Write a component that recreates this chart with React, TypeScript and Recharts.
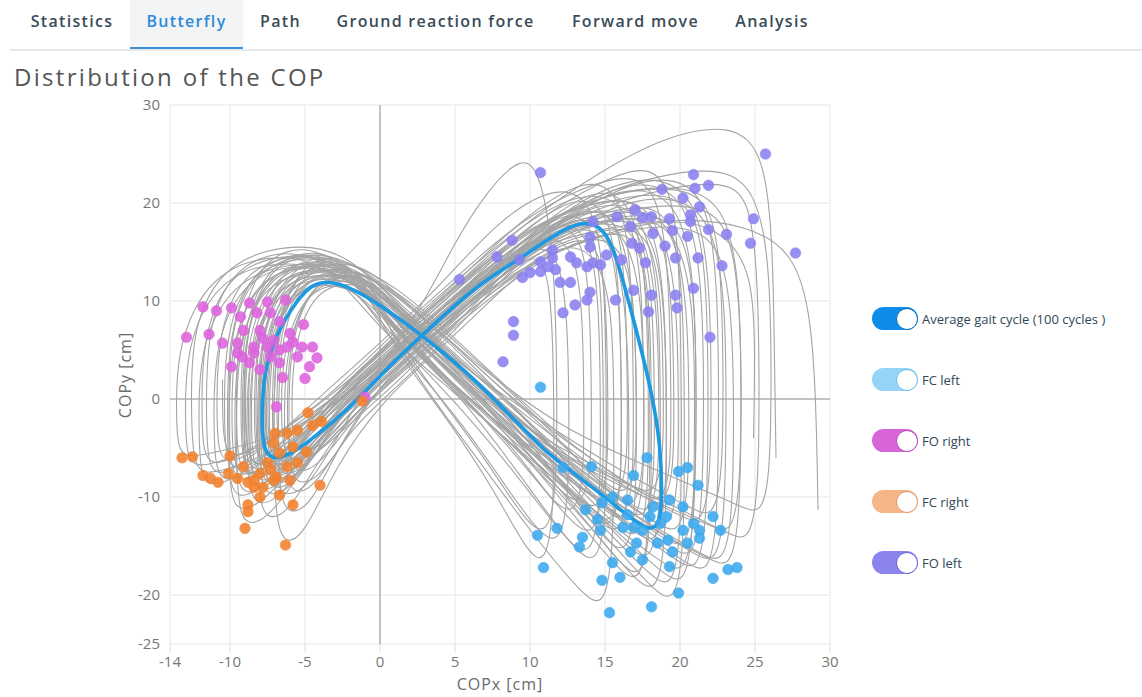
import React from "react";
import { CartesianGrid, ComposedChart, Line, ReferenceLine, Scatter, XAxis, YAxis } from "recharts";

type P = [number, number];

const xTicks = [-14, -10, -5, 0, 5, 10, 15, 20, 25, 30];
const yTicks = [-25, -20, -10, 0, 10, 20, 30];

const tabs = ["Statistics", "Butterfly", "Path", "Ground reaction force", "Forward move", "Analysis"];
const activeTab = "Butterfly";

// average gait cycle (closed loop, starts at the lower-left corner)
const avgCycle: P[] = [
  [-7.1, -6.2], [-5.9, -5.6], [-4.9, -4.5], [-3, -2.2], [-1.3, 0.2], [0.5, 3.2], [2.8, 6.5], [4.8, 9.3],
  [6.7, 11.8], [8.9, 13.9], [11.1, 16.2], [12.5, 17.5], [13.5, 18], [14.6, 17.8], [15.5, 15.8], [16.2, 12.1],
  [17.1, 7], [18.2, 0.2], [18.7, -4.9], [18.8, -9.3], [18.7, -12.4], [18.2, -13.4], [17.3, -12.9], [15.5, -10.6],
  [13.3, -8], [11.1, -5.5], [8.9, -2], [6.7, 1.4], [4.8, 4], [2.8, 6.5], [0.2, 9.4], [-1.8, 11.3],
  [-3.5, 12.1], [-4.6, 11.6], [-5.4, 10.3], [-6.5, 7.8], [-7.3, 5], [-7.8, 1.9], [-7.9, -2.9], [-7.7, -5.4],
];

// individual cycles (closed loops)
const cycles: P[][] = [
  [[-7.9, -8], [-6.3, -7.3], [-3, -1.4], [0, 2.7], [5, 9.5], [10, 15.8], [14, 19], [16.5, 17], [17.5, 10], [17.6, 0], [17.6, -9], [17, -13], [15.5, -11.6], [11, -5], [6, 2], [1, 9], [-1.5, 12], [-4, 13], [-7, 11.5], [-8.5, 6], [-8.6, -2], [-8.5, -6.5]],
  [[-8.4, -7.5], [-6.8, -6.8], [-3, -0.4], [0, 3.7], [5, 10.5], [10, 17], [15, 20], [17.5, 18], [18.5, 10], [18.6, 0], [18.6, -8], [18, -12], [16.5, -10.6], [11, -4], [6, 3], [1, 10], [-2, 13], [-4.5, 14], [-7.5, 12.5], [-9, 7], [-9.1, -1], [-9, -6]],
  [[-6.9, -7], [-5.3, -6.3], [-3, -2.4], [0, 1.7], [5, 8.5], [9.5, 14.5], [13, 18], [15.5, 16.5], [16.4, 10], [16.6, 0], [16.6, -10], [16, -14], [14.5, -12.6], [11, -6.5], [6, 1], [1, 8], [-1, 11.5], [-3, 12.5], [-6, 11], [-7.5, 5], [-7.6, -2], [-7.5, -5.5]],
  [[-9.4, -8.5], [-7.8, -7.8], [-3, 0.6], [0, 4.7], [5, 11.5], [10, 18], [16, 21], [18.5, 19], [19.5, 11], [19.6, 0], [19.6, -7], [19, -11], [17.5, -9.6], [11, -3], [6, 4], [1, 11], [-2.5, 14.5], [-5, 15], [-8.5, 13], [-10, 7], [-10.1, -1], [-10, -7]],
  [[-10.9, -7.8], [-9.3, -7.1], [-3, 1.6], [0, 5.7], [4, 11.5], [8, 18.5], [12, 22], [14.3, 20], [15, 12], [15.1, 0], [15.1, -12], [14.5, -17], [13, -15.6], [9, -7], [5, 1], [1, 7], [-2, 12.5], [-5.5, 15.5], [-9.5, 14], [-11.5, 8], [-11.6, -1], [-11.5, -6.5]],
  [[-12.9, -6], [-11, -5.5], [-6, -3.5], [-2, 0.5], [3, 6.5], [8, 13.5], [13, 19.5], [17, 22], [20, 20], [21, 12], [21.1, 0], [21, -13], [20.3, -18], [18.8, -16.8], [14, -11], [9, -5], [4, 2], [0, 7], [-3, 13], [-6, 15], [-11, 13.5], [-13.5, 6], [-13.6, -1], [-13.5, -5]],
  [[-11.9, -7.8], [-10, -7.2], [-5, -4], [0, 2.7], [5, 9.5], [10, 16.5], [14, 21], [18, 23], [21, 21], [22, 13], [22.1, 0], [22, -9], [21.4, -13], [19.9, -11.8], [15, -8], [10, -2], [5, 4], [1, 10], [-2, 14.5], [-5, 16], [-10, 14.5], [-12.5, 8], [-12.6, 0], [-12.5, -6]],
  [[-7.4, -9], [-5.8, -8.3], [-3, -3.4], [0, 0.7], [5, 7.5], [10, 13.5], [14, 17], [16.3, 15.5], [17, 9], [17.1, 0], [17.1, -6], [16.6, -10], [15, -8.8], [11, -3], [6, 4], [1, 11], [-1.5, 13], [-3.5, 13.5], [-6.5, 12], [-8, 6], [-8.1, -2], [-8, -7.5]],
  [[-8.9, -13], [-7.3, -12.2], [-4, -4.5], [0, 1.7], [5, 8.5], [10, 15], [15, 19.5], [19, 21], [22, 19], [23, 11], [23.1, 0], [23, -12], [22.4, -17], [20.9, -15.8], [16, -11], [11, -5], [6, 2], [1, 9], [-1.5, 13], [-4, 14.5], [-7.5, 13], [-9.5, 6], [-9.6, -3], [-9.5, -11]],
  [[-6.4, -15], [-5, -13.8], [-3, -7], [0, -0.3], [5, 6.5], [9, 12.5], [12, 16], [14.5, 15], [15.5, 9], [15.6, 0], [15.6, -15], [15, -21.5], [13.5, -20], [10, -13.5], [6, -5], [2, 3], [-0.5, 11], [-3, 15], [-5.5, 13.5], [-7, 7], [-7.1, -3], [-7, -12]],
  [[-5.9, -6.5], [-4.3, -5.8], [-2, -2.5], [1, 1.5], [5, 7.5], [8, 12.5], [10.5, 16], [12, 14.5], [12.5, 8], [12.6, 0], [12.6, -10], [12, -15], [10.5, -13.6], [8, -8], [5, -1.5], [1, 5.5], [-1, 10], [-2.5, 12], [-5, 11], [-6.5, 5], [-6.6, -1], [-6.5, -5]],
  [[-6.4, -10], [-4.8, -9.2], [-2.5, -3], [0, 3.7], [5, 10.5], [10, 17], [15, 21.5], [22, 24], [25, 22], [26, 14], [26.1, 2], [26, -8], [25.4, -12], [23.9, -10.8], [18, -7], [12, -3], [6, 4], [1, 11], [-1, 13.5], [-3, 14], [-5.5, 12.5], [-7, 6], [-7.1, -3], [-7, -8.5]],
  [[-8.2, -11], [-6.6, -10.2], [-3.5, -3], [0, 2.7], [5, 9.5], [10, 15.5], [16, 19], [18.3, 17], [19, 9], [19.1, 0], [19.1, -10], [18.5, -15], [17, -13.8], [12, -7], [6, 1], [1, 8], [-1.5, 12], [-4, 13], [-7, 11.5], [-8.8, 5], [-8.9, -3], [-8.8, -9]],
  [[-5.4, -8.8], [-4, -8], [-2, -3.5], [0, 1.7], [5, 8.5], [9.5, 15], [13.5, 20], [16, 18.5], [17, 10], [17.1, 0], [17.1, -11], [16.5, -16], [15, -14.6], [11, -6], [6, 2], [1, 9], [0, 11.5], [-2, 13], [-4.5, 12], [-6, 6], [-6.1, -2], [-6, -7.5]],
  [[-8.4, -9], [-6.8, -8.3], [-3, 0.6], [0, 4.7], [5, 11.5], [10, 17.5], [15, 21], [20, 22], [23, 20], [24, 12], [24.1, 0], [24, -12], [23.4, -17.5], [21.9, -16.3], [16, -11.5], [11, -7], [6, 0], [1, 7], [-2, 13], [-4.5, 15], [-7.5, 13.5], [-9, 7], [-9.1, -2], [-9, -7.5]],
  [[-10.4, -8.5], [-8.8, -7.8], [-3, -0.4], [0, 3.7], [5, 10.5], [10, 16], [15, 18.5], [17.3, 17], [18, 10], [18.1, 0], [18.1, -13], [17.5, -18.5], [16, -17], [12, -9], [6, 1], [1, 8], [-2, 12.5], [-5, 14], [-9, 12.5], [-11, 6], [-11.1, -2], [-11, -7]],
  [[-7.2, -7.5], [-5.6, -6.8], [-3, -2.4], [0, 1.7], [5, 8.5], [8.5, 13.5], [11, 17], [13, 15.5], [13.5, 9], [13.6, 0], [13.6, -8], [13, -12], [11.5, -10.6], [9, -5], [5, 1], [1, 7], [-1.5, 11], [-3.5, 12], [-6.5, 10.5], [-7.8, 5], [-7.9, -2], [-7.8, -6]],
  [[-7.7, -6.8], [-6.1, -6.1], [-3, -0.9], [0, 3.2], [5, 10], [10, 16], [17, 20], [19.5, 18], [20.5, 10], [20.6, 0], [20.6, -9], [20, -14], [18.5, -12.8], [13, -7], [7, 1], [1, 9.5], [-1.5, 12.5], [-4, 13.5], [-7, 12], [-8.3, 6], [-8.4, -2], [-8.3, -5.5]],
  [[-8.9, -7.8], [-7.3, -7.1], [-3, 0.1], [0, 4.2], [5, 11], [10, 17.5], [15.5, 21], [18, 19.5], [19, 11], [19.1, 0], [19.1, -14], [18.5, -20], [17, -18.6], [13, -11], [7, -2], [2, 5], [-1, 12], [-4.5, 16], [-8, 14.5], [-9.5, 7], [-9.6, -1], [-9.5, -6.5]],
  [[-6.7, -8.5], [-5.1, -7.8], [-3, -2], [0, 2.2], [5, 9], [9.5, 15], [13, 19], [15.3, 17.5], [16, 10], [16.1, 0], [16.1, -9], [15.5, -13], [14, -11.6], [10, -5], [6, 1.5], [1, 8.5], [-1, 11.5], [-3, 12.8], [-6, 11.5], [-7.3, 5], [-7.4, -2], [-7.3, -7]],
  [[-9.4, -11.5], [-7.8, -10.7], [-4, -4], [0, 2.7], [5, 9.5], [10, 16], [14, 20.5], [17.5, 22.5], [20.5, 20.5], [21.5, 12], [21.6, 0], [21.5, -11], [20.9, -16.5], [19.4, -15.3], [14, -9], [8, -1], [3, 6.5], [0, 11], [-2, 13.5], [-4.5, 14], [-8, 12.5], [-10, 6], [-10.1, -3], [-10, -10]],
  [[-6.2, -7], [-4.6, -6.3], [-2, -2], [1, 2.5], [5, 8], [9, 14], [12, 18], [13.5, 16.5], [14, 10], [14.1, 0], [14.1, -7], [13.5, -11], [12, -9.6], [9, -4], [5, 3], [1, 10], [-0.5, 12.5], [-2.5, 13.5], [-5.5, 12], [-6.8, 6], [-6.9, -1], [-6.8, -5.5]],
  [[-7.4, -10], [-5.8, -9.2], [-3, -2.5], [0, 2.7], [5, 9.5], [10, 16], [15, 21], [19, 23], [21.8, 21], [22.5, 12], [22.6, 0], [22.5, -13], [21.9, -18], [20.4, -16.8], [15, -11], [9, -4], [4, 2.5], [0, 9], [-1.5, 13], [-3.5, 14.5], [-6.5, 13], [-8, 6], [-8.1, -3], [-8, -8.5]],
  [[-11.4, -9], [-9.5, -8.2], [-4, -1.5], [0, 5.2], [5, 12], [10, 18.5], [14, 21.5], [16.8, 19.5], [17.5, 11], [17.6, 0], [17.6, -7], [17, -11.5], [15.5, -10], [11, -2.5], [6, 4.5], [1, 11.5], [-2.5, 13.5], [-5.5, 14], [-9.5, 12.5], [-12, 6], [-12.1, -2], [-12, -7.5]],
  [[-7, -6], [-5.4, -5.3], [-3, -2], [0, 2.2], [5, 9], [10, 15], [16, 18], [18.2, 16.5], [18.8, 9], [18.9, 0], [18.9, -6], [18.3, -10], [16.8, -8.8], [12, -6], [6, 2], [1, 9], [-1, 12], [-3, 13], [-6, 11.5], [-7.6, 5], [-7.7, -1], [-7.6, -4.5]],
  [[-8.6, -8], [-7, -7.3], [-3, -0.4], [0, 3.7], [5, 10.5], [10, 16], [16, 19.5], [21, 20], [23.3, 18], [24, 10], [24.1, 0], [24, -9.5], [23.4, -14], [21.9, -12.8], [16, -9], [10, -4], [5, 2.5], [1, 8], [-1.5, 13], [-4, 15.5], [-7.5, 14], [-9.2, 7], [-9.3, -1], [-9.2, -6.5]],
  [[-8, -9.5], [-6.4, -8.8], [-3, -2], [0, 2.7], [5, 9.5], [10, 17], [14.5, 22], [17, 20], [17.8, 11], [17.9, 0], [17.9, -10], [17.3, -14.5], [15.8, -13.2], [11, -5.5], [6, 2.5], [1, 9.5], [-1.5, 12], [-4, 12.5], [-7, 11], [-8.6, 5], [-8.7, -3], [-8.6, -8]],
  [[-5.7, -9.8], [-4.3, -9], [-2, -3], [1, 1], [5, 7], [8, 12], [10, 15], [11.2, 13.5], [11.5, 7], [11.6, 0], [11.6, -12], [11, -17], [9.8, -15.6], [7.5, -9], [4.5, -2], [1, 5], [-0.5, 10], [-2, 12.5], [-4.8, 11.5], [-6.3, 5], [-6.4, -2], [-6.3, -8]],
  [[-10.2, -6.5], [-8.6, -5.8], [-3, 0.1], [0, 4.2], [5, 11], [10, 18], [15, 22.5], [18, 24], [19.6, 21], [20, 12], [20.1, 0], [20.1, -14], [19.5, -19.5], [18, -18.1], [14, -11.5], [8, -3], [3, 4], [0, 9], [-2.5, 13.5], [-5, 15], [-9, 13.5], [-10.8, 7], [-10.9, -1], [-10.8, -5.5]],
  [[-7.3, -8.2], [-5.7, -7.5], [-3, -1], [0, 3.2], [5, 10], [10, 16.5], [15, 19.5], [17.5, 17.5], [18.2, 10], [18.3, 0], [18.3, -8.5], [17.7, -12.5], [16.2, -11.2], [11, -4.5], [6, 2.5], [1, 9.5], [-1, 12], [-3.2, 13], [-6.3, 11.8], [-7.9, 5.5], [-8, -2], [-7.9, -7]],
  [[-8.3, -7], [-6.7, -6.3], [-3, -0.4], [0, 3.7], [5, 10.5], [10, 16.5], [16.5, 19], [19, 17.5], [19.8, 10], [19.9, 0], [19.9, -9], [19.3, -13.5], [17.8, -12.2], [12, -6], [6, 2.3], [1, 9.3], [-1.5, 12.8], [-4.2, 14], [-7.3, 12.5], [-8.9, 6], [-9, -1], [-8.9, -5.5]],
  [[-5.2, -5.5], [-3.8, -4.8], [-2, -1.5], [1, 3], [5, 8.5], [10, 14], [15, 17], [20, 18], [22.8, 16], [23.5, 8], [23.6, -2], [23.5, -12], [22.9, -17], [21.4, -15.8], [16, -11], [10, -5], [5, 1], [1, 8], [-0.5, 11], [-2, 12], [-4.5, 11], [-5.8, 5], [-5.9, -1], [-5.8, -4.5]],
  [[-9.2, -8], [-7.6, -7.3], [-3, -0.6], [0, 3.5], [5, 10.3], [9, 16.5], [13, 21], [15.3, 19.5], [16, 11], [16.1, 0], [16.1, -9], [15.5, -13.5], [14, -12.1], [10, -5], [5, 2], [1, 8.5], [-2, 12.5], [-4.8, 13.8], [-8.3, 12.3], [-9.8, 6], [-9.9, -2], [-9.8, -6.5]],
  [[-7.6, -8.8], [-6, -8], [-3, -2.5], [0, 3], [3, 10], [5, 16], [7, 21], [9.5, 25], [10.7, 23.1], [11.6, 15], [11.8, 3], [11.8, -9], [11.2, -14], [9.8, -12.8], [7, -6], [4, 0], [1, 6.5], [-1, 11], [-3, 13.2], [-6, 12], [-7.6, 6], [-7.7, -2], [-7.6, -7]],
  [[-7.6, -7.2], [-6, -6.5], [-3, 0.8], [0, 4.9], [5, 11.7], [9.5, 18.5], [13.8, 22.8], [16.2, 21], [16.8, 12], [16.9, 0], [16.9, -8.5], [16.3, -12.8], [14.8, -11.4], [11, -3.5], [6, 3.2], [1, 10.2], [-1.5, 13.8], [-3.8, 14.8], [-6.8, 13.2], [-8.2, 6.5], [-8.3, -1.5], [-8.2, -6]],
  [[-9, -9.8], [-7.4, -9.1], [-3.5, -2.8], [0, 1.9], [5, 8.7], [10, 15], [14, 18], [17.8, 19.2], [20.3, 17.5], [21, 10], [21.1, 0], [21, -10.5], [20.4, -15.5], [18.9, -14.3], [13.5, -8.5], [8, -1], [3, 5.8], [0, 9.8], [-2, 12.6], [-4.4, 13.2], [-7.8, 11.8], [-9.6, 5.5], [-9.7, -2.5], [-9.6, -8.3]],
  [[-6.5, -7.9], [-4.9, -7.2], [-2.5, -1.2], [0, 2.4], [5, 9.2], [10, 16], [14.8, 20.6], [17.6, 19], [18.6, 11], [18.7, 0], [18.7, -11.5], [18.1, -16.8], [16.6, -15.4], [12, -7.5], [6, 2.7], [1, 9.7], [-1.2, 13], [-3.3, 14.2], [-5.8, 12.8], [-7.1, 6], [-7.2, -1.5], [-7.1, -6.5]],
  [[-9.7, -7.3], [-8.1, -6.6], [-3, 0.4], [0, 4.5], [5, 11.3], [10, 17.6], [15, 21], [19.8, 21.8], [22.2, 20], [22.8, 12], [22.9, 0], [22.8, -8], [22.2, -12.3], [20.7, -11.1], [15, -6.5], [9, -0.5], [4, 5], [0.5, 10.5], [-2.5, 14], [-5.2, 14.6], [-8.8, 13], [-10.3, 6.5], [-10.4, -1], [-10.3, -6]],
  [[-8.1, -8.6], [-6.5, -7.9], [-3, -1.2], [0, 2.9], [5, 9.7], [9, 15.5], [12.4, 19.4], [14.3, 18], [14.8, 10], [14.9, 0], [14.9, -9.5], [14.3, -14.2], [12.8, -12.8], [9.5, -6.5], [5.5, 0.5], [1, 7.5], [-1.5, 12], [-4.1, 13.6], [-7.2, 12.2], [-8.7, 6], [-8.8, -2], [-8.7, -7]],
  [[-6.1, -11.8], [-4.6, -11], [-2.5, -4], [0, 1.5], [5, 8.3], [10, 14.5], [14, 17.8], [16.8, 18.8], [19.8, 17.5], [20.9, 10], [21, 0], [20.9, -14], [20.3, -19.2], [18.8, -17.8], [14, -11], [8, -2.5], [3, 4], [0, 8.5], [-1, 11.8], [-2.8, 13.1], [-5.4, 12], [-6.7, 5.5], [-6.8, -3], [-6.7, -10]],
  [[-11.2, -6.8], [-9.6, -6.1], [-4, -0.8], [0, 5.5], [5, 12.3], [10, 19.2], [16.2, 23.4], [18.6, 21.5], [19.3, 12], [19.4, 0], [19.4, -7], [18.8, -10.8], [17.3, -9.5], [12, -4], [6, 4.8], [1, 11.8], [-2.5, 14.2], [-5.8, 14.9], [-9.8, 13.5], [-11.8, 7], [-11.9, -1], [-11.8, -5.5]],
  [[-7.5, -12.4], [-6, -11.6], [-3.5, -4.5], [0, 1.1], [5, 7.9], [10, 14], [15.6, 17.6], [17.4, 16], [17.9, 9], [18, 0], [18, -13], [17.4, -19], [15.9, -17.6], [12, -10], [6, 0.8], [1, 7.8], [-1.3, 12.2], [-3.6, 13.8], [-6.6, 12.4], [-8.1, 5.8], [-8.2, -3], [-8.1, -10.5]],
  [[-8.5, -8.3], [-6.9, -7.6], [-3, -0.2], [0, 3.9], [5, 10.7], [10, 17], [15, 20.3], [18.6, 21.2], [21.2, 19.5], [21.8, 11], [21.9, 0], [21.8, -12.5], [21.2, -17.8], [19.7, -16.5], [14.5, -10.5], [8.5, -2.5], [3.5, 4.5], [0, 9.5], [-2, 13.2], [-4.3, 14.3], [-7.6, 12.9], [-9.1, 6.3], [-9.2, -1.5], [-9.1, -7]],
  [[-6.8, -6.6], [-5.2, -5.9], [-2.5, -1.1], [0, 2.5], [5, 9.3], [9, 15], [11.8, 18.4], [14, 17], [14.6, 10], [14.7, 0], [14.7, -11], [14.1, -16.2], [12.6, -14.8], [9.5, -8.5], [5.5, -1], [1, 6], [-1.2, 10.5], [-3.1, 12.3], [-6, 11], [-7.4, 5], [-7.5, -1.5], [-7.4, -5.3]],
  [[-12.3, -7], [-10.5, -6.4], [-5, -3], [0, 3.3], [5, 10.1], [10, 16.5], [16, 20.5], [22.8, 22.6], [24.7, 20.5], [25.2, 12], [25.3, 0], [25.2, -10], [24.6, -14.8], [23.1, -13.6], [17, -9], [10, -3.5], [5, 2.5], [1, 8.8], [-2.5, 13], [-6.2, 14.2], [-10.5, 12.8], [-12.9, 6], [-13, -1.5], [-12.9, -5.8]],
  [[-7.1, -9.3], [-5.5, -8.6], [-3, -1.2], [0, 3], [5, 9.8], [10, 16.3], [14.2, 19.8], [16, 18.3], [16.4, 10], [16.5, 0], [16.5, -6.5], [15.9, -10.6], [14.4, -9.3], [10.5, -3.5], [6, 3.8], [1, 10.8], [-1.2, 12.8], [-3.4, 13.4], [-6.4, 12], [-7.7, 5.5], [-7.8, -2], [-7.7, -8]],
  [[-9.5, -10.2], [-7.9, -9.4], [-3.5, -1.5], [0, 3.6], [5, 10.4], [10, 16.8], [17.2, 20.2], [19.5, 18.8], [20.2, 11], [20.3, 0], [20.3, -15], [19.7, -21], [18.2, -19.6], [14, -12], [8, -3.5], [3, 3.5], [0, 9], [-2.3, 13.6], [-4.7, 15.2], [-8.4, 13.8], [-10.1, 7], [-10.2, -2], [-10.1, -8.5]],
  [[-5.5, -7.6], [-4.1, -6.9], [-2, -2.5], [0, 0.9], [5, 7.7], [9.5, 13.5], [13.2, 16.8], [14.7, 15.5], [15.1, 9], [15.2, 0], [15.2, -7.5], [14.6, -11.6], [13.1, -10.3], [10, -4.5], [6, 2.5], [1, 9.3], [-0.4, 11.8], [-2.2, 12.8], [-4.8, 11.6], [-6.1, 5.5], [-6.2, -1.5], [-6.1, -6.3]],
];

// cycles that end inside the plot (not closed)
const openCycles: P[][] = [
  [[-10.5, 2], [-10.5, -4.5], [-9.9, -6], [-8.3, -5.3], [-3, 0.6], [0, 4.7], [5, 11.5], [10, 18.5], [15, 23.5], [19, 26.8], [23.5, 28.2], [25.7, 25], [26.2, 15], [26.3, 4], [26.4, -6]],
  [[-9, 3], [-9, -5], [-8.4, -7], [-6.8, -6.3], [-3, 0], [0, 4], [5, 10.5], [10, 15.5], [15, 17.5], [20, 18.5], [24.5, 17.8], [27.7, 14.9], [28.8, 8], [29.1, -2], [29.2, -11.3]],
  [[-8, 4], [-8, -5], [-7.4, -7.2], [-5.8, -6.5], [-3, -1.5], [0, 2.5], [5, 9], [10, 14], [15, 17], [19.5, 18.5], [22.8, 17.3], [24.9, 13], [25, 4], [24.9, -4]],
];

// events
const foRight: P[] = [
  [-11.8, 9.4], [-10.9, 9], [-9.9, 9.3], [-12.9, 6.3], [-11.4, 6.6], [-8.7, 9.8], [-7.5, 9.9], [-6.3, 10.1],
  [-9.3, 8.4], [-8.2, 8.8], [-7.3, 8.8], [-10.5, 5.7], [-9.5, 5.7], [-9.9, 3.3], [-9.2, 4.3], [-8.4, 5.3],
  [-7.8, 6.2], [-5.1, 7.6], [-6.7, 7.9], [-8, 7], [-6.2, 5.3], [-5.5, 4.3], [-4.2, 4.2], [-4.7, 3.3],
  [-6.7, 3.7], [-7.3, 4.3], [-8, 3], [-5, 2.1], [-6.5, 2.2], [-8.4, 4.7], [-6, 6.7], [-7.1, 6],
  [-7.5, 5.3], [-8.7, 3.7], [-9.5, 4.7], [-9.1, 7], [-5.8, 5.8], [-6.7, 5], [-5.2, 5.3], [-4.5, 5.3],
  [-6.9, -0.8], [-1, 0.2],
];
const fcRight: P[] = [
  [-12.5, -5.9], [-11.8, -7.8], [-10.8, -8.5], [-10, -5.8], [-10.1, -7.6], [-9.1, -6.9], [-8.8, -8.5], [-8, -7.6],
  [-7.3, -7.2], [-6.9, -8], [-6.2, -6.9], [-5.5, -6.5], [-4.9, -5.4], [-6.7, -5.5], [-7, -3.5], [-6.2, -3.5],
  [-5.5, -3.2], [-4.5, -2.7], [-4, -8.8], [-7.8, -9], [-6.7, -9.8], [-5.8, -10.8], [-8.8, -10.8], [-8.8, -11.5],
  [-9, -13.2], [-6.3, -14.9], [-9.5, -8.1], [-8.4, -9], [-7.1, -8.3], [-6, -8.3], [-7.5, -6.5], [-7.1, -4.5],
  [-5.8, -4.9], [-11.3, -8.1], [-8, -10], [-8.4, -8.3], [-1.2, -0.2], [-4.8, -1.4], [-3.9, -2.3], [-13.2, -6],
];
const fcLeft: P[] = [
  [10.7, 1.2], [17.8, -6], [16.9, -7.8], [14.1, -6.9], [12.2, -7], [20.5, -7], [19.9, -7.4], [21.2, -8.8],
  [13.7, -11.3], [14.8, -10.6], [15.5, -10], [16.5, -10.3], [18.2, -11], [19.3, -10.3], [20.2, -11], [22.2, -12],
  [22.7, -13.4], [20.9, -12.7], [20.2, -13.4], [19.2, -14.4], [18.5, -14.7], [17.5, -13.4], [16.9, -13.1], [16.2, -13.1],
  [14.5, -12.3], [14.7, -13.4], [11.8, -13.2], [10.5, -13.9], [13.3, -15.1], [16.7, -15.6], [19.5, -15.6], [20.5, -14.7],
  [10.9, -17.2], [14.8, -18.5], [16, -18.2], [15.5, -16.7], [17.5, -16.4], [19.3, -17.1], [22.2, -18.3], [23.2, -17.4],
  [23.8, -17.2], [19.9, -19.8], [18.1, -21.2], [15.3, -21.8], [13.5, -14.1], [21.3, -13.4], [18.7, -12.7], [18, -12],
  [19.1, -12], [16.5, -11.8], [17.1, -14.7], [21.3, -14.2],
];
const foLeft: P[] = [
  [10.7, 23.1], [25.7, 25], [20.9, 22.9], [21.9, 21.8], [21, 21.5], [18.8, 21.4], [20.2, 20.5], [21.3, 19.6],
  [17, 19.3], [20.7, 18.8], [24.9, 18.4], [19.3, 18.4], [15.8, 18.6], [17.5, 18.5], [18.1, 18.6], [20.7, 18.1],
  [16.7, 17.6], [19.5, 17.2], [21.9, 17.3], [18.2, 16.9], [20.5, 16.6], [23.1, 16.8], [24.7, 15.9], [27.7, 14.9],
  [14.2, 18.1], [14, 16.5], [16.8, 15.9], [17.3, 15.4], [19, 15.6], [19.7, 14.4], [21.2, 14.4], [22.8, 13.6],
  [17.7, 13.9], [16.1, 14.2], [16.9, 11.1], [18.1, 10.6], [19.7, 10.6], [20.9, 11.3], [19.8, 9.3], [17.9, 8.9],
  [15.7, 10.1], [14, 10.9], [13.8, 10.1], [13, 9.6], [12.2, 8.8], [8.9, 7.9], [8.8, 16.2], [7.8, 14.5],
  [9.3, 14.2], [10, 12.9], [10.7, 13], [11.5, 15.2], [11.5, 14.4], [11.7, 13.2], [12, 11.9], [12.7, 11.9],
  [12.7, 14.5], [13.1, 13.9], [13.8, 13.5], [14.2, 13.9], [14.7, 13.7], [15.1, 14.7], [14, 15.5], [9.5, 12.4],
  [10.7, 14], [11.2, 13.5], [22, 6.3], [8.9, 6.5], [8.2, 3.8], [5.3, 12.2],
];

const legendItems = [
  { label: "Average gait cycle (100 cycles )", color: "#0d8de9", ring: "#0a6fc0" },
  { label: "FC left", color: "#95d4f6", ring: "#6fbfea" },
  { label: "FO right", color: "#d865d8", ring: "#b94fb9" },
  { label: "FC right", color: "#f6b489", ring: "#e39a68" },
  { label: "FO left", color: "#8c84ee", ring: "#6f66d6" },
];

const toPts = (arr: P[]) => arr.map(([x, y]) => ({ x, y }));

const dot = (fill: string) => (props: any) => (
  <circle cx={props.cx} cy={props.cy} r={5.3} fill={fill} fillOpacity={0.88} stroke={fill} strokeOpacity={0.5} strokeWidth={1} />
);

const FONT = "'Open Sans', 'Noto Sans', sans-serif";
const axisTick = { fontSize: 15, fill: "#777", fontFamily: FONT };
const grayLine = "#a4a4a4";

function Tabs() {
  const widths = [116, 113, 75, 235, 165, 108];
  return (
    <div style={{ position: "absolute", left: 14, top: 0, display: "flex", height: 50 }}>
      {tabs.map((t, i) => {
        const on = t === activeTab;
        return (
          <div
            key={t}
            style={{
              width: widths[i],
              height: 50,
              display: "flex",
              alignItems: "center",
              justifyContent: "center",
              fontFamily: FONT,
              fontSize: 16,
              fontWeight: 600,
              letterSpacing: 1.3,
              color: on ? "#2d8bd6" : "#3a4b58",
              background: on ? "#f2f4f6" : "transparent",
              borderBottom: on ? "3px solid #3a91d8" : "3px solid transparent",
              boxSizing: "border-box",
              paddingBottom: 5,
            }}
          >
            {t}
          </div>
        );
      })}
    </div>
  );
}

function Legend() {
  return (
    <>
      {legendItems.map((it, i) => (
        <div key={it.label} style={{ position: "absolute", left: 872, top: 307 + i * 61, display: "flex", alignItems: "center" }}>
          <div style={{ position: "relative", width: 46, height: 23, borderRadius: 12, background: it.color }}>
            <div
              style={{
                position: "absolute",
                left: 24,
                top: 0.5,
                width: 20,
                height: 20,
                borderRadius: 11,
                background: "#fff",
                border: `1px solid ${it.ring}`,
              }}
            />
          </div>
          <span style={{ marginLeft: 4, fontFamily: FONT, fontSize: 13, color: "#2f4857" }}>{it.label}</span>
        </div>
      ))}
    </>
  );
}

export default function App() {
  return (
    <div style={{ position: "absolute", left: 0, top: 0, width: 1142, height: 697, background: "#fff", overflow: "hidden" }}>
      <Tabs />
      <div style={{ position: "absolute", left: 10, right: 0, top: 49, height: 2, background: "#e8e8e8" }} />
      <div
        style={{
          position: "absolute",
          left: 14,
          top: 66,
          fontFamily: FONT,
          fontSize: 24,
          letterSpacing: 2.3,
          color: "#555",
          lineHeight: "22px",
          height: 22,
        }}
      >
        Distribution of the COP
      </div>

      <div style={{ position: "absolute", left: 0, top: 95 }}>
        <ComposedChart width={860} height={602} margin={{ top: 10, right: 30, bottom: 13, left: 110 }}>
          <CartesianGrid stroke="#e7e7e7" strokeWidth={1} />
          <XAxis
            type="number"
            dataKey="x"
            domain={[-14, 30]}
            ticks={xTicks}
            interval={0}
            allowDataOverflow
            axisLine={false}
            tickLine={{ stroke: "#dcdcdc" }}
            tickSize={8}
            tickMargin={4}
            height={40}
            tick={axisTick}
          />
          <YAxis
            type="number"
            dataKey="y"
            domain={[-25, 30]}
            ticks={yTicks}
            interval={0}
            allowDataOverflow
            axisLine={false}
            tickLine={false}
            tickSize={6}
            tickMargin={4}
            width={60}
            tick={axisTick}
          />
          <ReferenceLine x={0} stroke="#c3c3c3" strokeWidth={2} />
          <ReferenceLine y={0} stroke="#c3c3c3" strokeWidth={2} />
          {cycles.map((c, i) => (
            <Line
              key={"c" + i}
              data={toPts(c)}
              dataKey="y"
              type="basisClosed"
              stroke={grayLine}
              strokeWidth={1.1}
              dot={false}
              activeDot={false}
              isAnimationActive={false}
            />
          ))}
          {openCycles.map((c, i) => (
            <Line
              key={"o" + i}
              data={toPts(c)}
              dataKey="y"
              type="basis"
              stroke={grayLine}
              strokeWidth={1.1}
              dot={false}
              activeDot={false}
              isAnimationActive={false}
            />
          ))}
          <Scatter data={toPts(foRight)} shape={dot("#dd62dd")} isAnimationActive={false} />
          <Line
            data={toPts(avgCycle)}
            dataKey="y"
            type="basisClosed"
            stroke="#1b99e2"
            strokeWidth={3.6}
            dot={false}
            activeDot={false}
            isAnimationActive={false}
          />
          <Scatter data={toPts(fcRight)} shape={dot("#f2812c")} isAnimationActive={false} />
          <Scatter data={toPts(fcLeft)} shape={dot("#3aa9ee")} isAnimationActive={false} />
          <Scatter data={toPts(foLeft)} shape={dot("#8a80f0")} isAnimationActive={false} />
        </ComposedChart>
      </div>

      <div
        style={{
          position: "absolute",
          left: 500,
          top: 684,
          transform: "translate(-50%, -50%)",
          fontFamily: FONT,
          fontSize: 16,
          letterSpacing: 1,
          color: "#6b6b6b",
          whiteSpace: "nowrap",
        }}
      >
        COPx [cm]
      </div>
      <div
        style={{
          position: "absolute",
          left: 125,
          top: 375,
          transform: "translate(-50%, -50%) rotate(-90deg)",
          fontFamily: FONT,
          fontSize: 16,
          letterSpacing: 1,
          color: "#6b6b6b",
          whiteSpace: "nowrap",
        }}
      >
        COPy [cm]
      </div>

      <Legend />
    </div>
  );
}
